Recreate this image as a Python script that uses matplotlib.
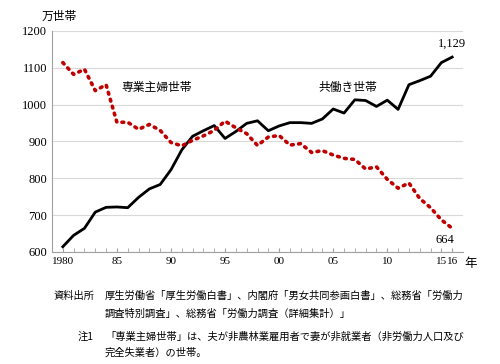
import numpy as np
import matplotlib
matplotlib.use("Agg")
import matplotlib.pyplot as plt

plt.rcParams['font.family'] = ['Noto Sans CJK JP', 'DejaVu Sans']

# データ(万世帯)
years = np.arange(1980, 2017)
kyobataraki = [614, 645, 664, 708, 721, 722, 720, 748, 771, 783,
               823, 877, 914, 929, 943, 908, 927, 949, 956, 929,
               942, 951, 951, 949, 961, 988, 977, 1013, 1011, 995,
               1012, 987, 1054, 1065, 1077, 1114, 1129]
sengyo_shufu = [1114, 1082, 1096, 1038, 1054, 952, 952, 933, 946, 930,
                897, 888, 903, 915, 930, 955, 937, 921, 889, 912,
                916, 890, 894, 870, 875, 863, 854, 851, 825, 831,
                797, 773, 787, 745, 720, 687, 664]
tick_years = [1980, 1985, 1990, 1995, 2000, 2005, 2010, 2015, 2016]
tick_labels = ['1980', '85', '90', '95', '00', '05', '10', '15', '16']

fig = plt.figure(figsize=(5, 3.64), dpi=100)
ax = fig.add_axes([0.104, 0.308, 0.822, 0.607])

ax.plot(years, kyobataraki, color='black', linewidth=2.0, zorder=3)
ax.plot(years, sengyo_shufu, color='#C00000', linewidth=2.6,
        linestyle=(0, (0.5, 1.5)), dash_capstyle='round', zorder=3)

ax.set_xlim(1979, 2017)
ax.set_ylim(600, 1200)
ax.set_yticks(range(600, 1201, 100))
ax.grid(axis='y', color='#d9d9d9', linewidth=0.8)
ax.set_axisbelow(True)

ax.set_xticks(tick_years)
ax.set_xticklabels(tick_labels, family='Liberation Serif', fontsize=8)
ax.set_xticks(years, minor=True)
ax.tick_params(axis='x', which='both', direction='in', length=3, color='#a0a0a0')
ax.tick_params(axis='y', length=0, labelsize=9)
for lab in ax.get_yticklabels():
    lab.set_family('Liberation Serif')

for s in ['top', 'right']:
    ax.spines[s].set_visible(False)
ax.spines['left'].set_color('#a0a0a0')
ax.spines['bottom'].set_color('#a0a0a0')

fig.text(0.084, 0.955, '万世帯', fontsize=8.5, ha='left', va='center')
fig.text(0.942, 0.275, '年', fontsize=9, ha='center', va='center')

ax.text(1985.4, 1046, '専業主婦世帯', fontsize=8.5, ha='left', va='center')
ax.text(2003.6, 1046, '共働き世帯', fontsize=8.5, ha='left', va='center')
ax.text(2016.0, 1150, '1,129', fontsize=9, family='Liberation Serif', ha='center', va='bottom')
ax.text(2015.3, 632, '664', fontsize=9, family='Liberation Serif', ha='center', va='center')

fig.text(0.108, 0.187, '資料出所', fontsize=7.4, ha='left', va='center')
fig.text(0.21, 0.187, '厚生労働省「厚生労働白書」、内閣府「男女共同参画白書」、総務省「労働力',
         fontsize=7.4, ha='left', va='center')
fig.text(0.21, 0.139, '調査特別調査」、総務省「労働力調査（詳細集計）」',
         fontsize=7.4, ha='left', va='center')
fig.text(0.156, 0.074, '注1', fontsize=7.4, ha='left', va='center')
fig.text(0.21, 0.074, '「専業主婦世帯」は、夫が非農林業雇用者で妻が非就業者（非労働力人口及び',
         fontsize=7.4, ha='left', va='center')
fig.text(0.21, 0.030, '完全失業者）の世帯。', fontsize=7.4, ha='left', va='center')

fig.savefig('out.png', dpi=100)
